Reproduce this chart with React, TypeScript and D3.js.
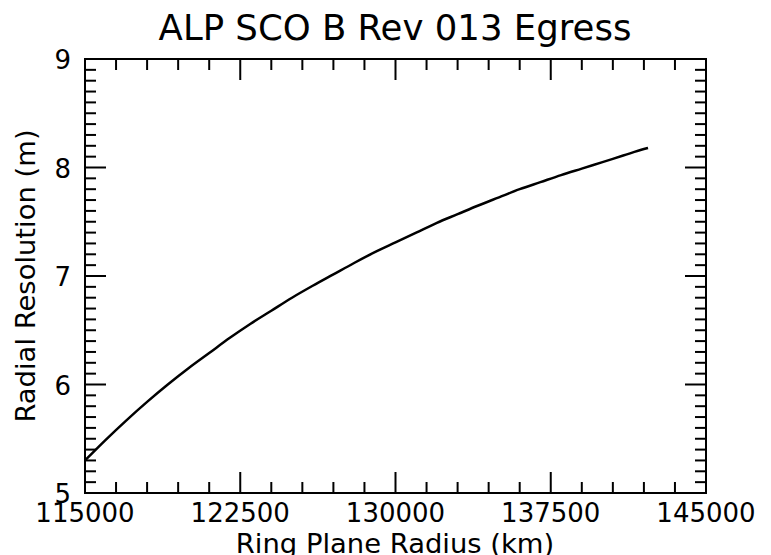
import { useEffect, useRef } from 'react';
import * as d3 from 'd3';

const radiusKm = [
  115000, 116000, 117000, 118000, 119000, 120000, 121000, 122000, 123000, 124000,
  125000, 126000, 127000, 128000, 129000, 130000, 131000, 132000, 133000, 134000,
  135000, 136000, 137000, 138000, 139000, 140000, 141000, 142000, 142200,
];
const resolutionM = [
  5.3, 5.49, 5.67, 5.84, 6.0, 6.15, 6.29, 6.43, 6.56, 6.68,
  6.8, 6.91, 7.015, 7.12, 7.22, 7.31, 7.4, 7.49, 7.57, 7.65,
  7.725, 7.8, 7.865, 7.93, 7.99, 8.05, 8.11, 8.17, 8.18,
];
const xTickLabels = ['115000', '122500', '130000', '137500', '145000'];
const yTickLabels = ['5', '6', '7', '8', '9'];

export default function App() {
  const svgRef = useRef<SVGSVGElement>(null);

  useEffect(() => {
    if (!svgRef.current) return;
    const svg = d3.select(svgRef.current);
    svg.selectAll('*').remove();

    const width = 771;
    const height = 555;
    const left = 85;
    const right = 706;
    const top = 59;
    const bottom = 493;
    const font = 'DejaVu Sans, sans-serif';

    const xScale = d3.scaleLinear().domain([115000, 145000]).range([left, right]);
    const yScale = d3.scaleLinear().domain([5, 9]).range([bottom, top]);

    svg.attr('width', width).attr('height', height);
    svg.append('rect').attr('width', width).attr('height', height).attr('fill', '#fff');

    // Ticks point inward on all four sides
    const xMinor = d3.range(115000, 145001, 1500);
    const xMajor = xTickLabels.map(Number);
    const yMinor = d3.range(50, 91, 1).map((d) => d / 10);
    const yMajor = yTickLabels.map(Number);

    const ticks = svg.append('g').attr('stroke', '#000').attr('stroke-width', 2);
    xMinor.forEach((v) => {
      const len = xMajor.includes(v) ? 21 : 11;
      ticks.append('line').attr('x1', xScale(v)).attr('x2', xScale(v)).attr('y1', bottom).attr('y2', bottom - len);
      ticks.append('line').attr('x1', xScale(v)).attr('x2', xScale(v)).attr('y1', top).attr('y2', top + len);
    });
    yMinor.forEach((v) => {
      const len = yMajor.some((m) => Math.abs(m - v) < 1e-9) ? 21 : 11;
      ticks.append('line').attr('y1', yScale(v)).attr('y2', yScale(v)).attr('x1', left).attr('x2', left + len);
      ticks.append('line').attr('y1', yScale(v)).attr('y2', yScale(v)).attr('x1', right).attr('x2', right - len);
    });

    // Frame
    svg.append('rect')
      .attr('x', left)
      .attr('y', top)
      .attr('width', right - left)
      .attr('height', bottom - top)
      .attr('fill', 'none')
      .attr('stroke', '#000')
      .attr('stroke-width', 2);

    // Curve
    const line = d3
      .line<number>()
      .x((_, i) => xScale(radiusKm[i]))
      .y((d) => yScale(d))
      .curve(d3.curveMonotoneX);
    svg.append('path')
      .attr('d', line(resolutionM))
      .attr('fill', 'none')
      .attr('stroke', '#000')
      .attr('stroke-width', 2.5);

    // Tick labels
    svg.append('g')
      .selectAll('text')
      .data(xTickLabels)
      .join('text')
      .attr('x', (d) => xScale(+d))
      .attr('y', 522)
      .attr('text-anchor', 'middle')
      .attr('font-family', font)
      .attr('font-size', 26)
      .text((d) => d);

    svg.append('g')
      .selectAll('text')
      .data(yTickLabels)
      .join('text')
      .attr('x', 71)
      .attr('y', (d) => yScale(+d) + 10)
      .attr('text-anchor', 'end')
      .attr('font-family', font)
      .attr('font-size', 26)
      .text((d) => d);

    // Title and axis titles
    svg.append('text')
      .attr('x', 395)
      .attr('y', 40)
      .attr('text-anchor', 'middle')
      .attr('font-family', font)
      .attr('font-size', 35.5)
      .text('ALP SCO B Rev 013 Egress');

    svg.append('text')
      .attr('x', 395)
      .attr('y', 553)
      .attr('text-anchor', 'middle')
      .attr('font-family', font)
      .attr('font-size', 27.4)
      .text('Ring Plane Radius (km)');

    svg.append('text')
      .attr('transform', `translate(35,276) rotate(-90)`)
      .attr('text-anchor', 'middle')
      .attr('font-family', font)
      .attr('font-size', 27.4)
      .text('Radial Resolution (m)');
  }, []);

  return <svg ref={svgRef} style={{ position: 'absolute', left: 0, top: 0 }} />;
}
